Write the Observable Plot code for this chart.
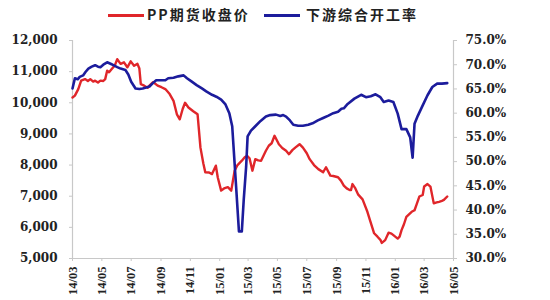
<!DOCTYPE html>
<html><head><meta charset="utf-8">
<script src="https://cdn.jsdelivr.net/npm/d3@7"></script>
<script src="https://cdn.jsdelivr.net/npm/@observablehq/plot@0.6"></script>
<style>
html,body{margin:0;padding:0;background:#fff;}
body{width:550px;height:300px;overflow:hidden;}
#legend{position:relative;height:28px;width:550px;font-family:"Noto Sans CJK SC","Liberation Serif",serif;font-weight:bold;font-size:14px;color:#222;}
#legend .sw{position:absolute;top:14px;height:3px;width:36px;}
#legend .tx{position:absolute;top:5px;letter-spacing:2px;white-space:nowrap;line-height:18px;}
</style></head><body>
<div id="legend"></div>
<div id="chart"></div>
<script>
const seriesNames = ["PP期货收盘价", "下游综合开工率"];
const seriesColors = ["#e0262a", "#1c1c9c"];

const priceDates = ["2014-03-01","2014-03-06","2014-03-13","2014-03-19","2014-03-27","2014-04-02","2014-04-07","2014-04-13","2014-04-17","2014-04-23","2014-04-28","2014-05-04","2014-05-08","2014-05-12","2014-05-16","2014-05-22","2014-05-28","2014-06-02","2014-06-09","2014-06-16","2014-06-23","2014-06-30","2014-07-07","2014-07-14","2014-07-18","2014-07-21","2014-07-28","2014-08-04","2014-08-08","2014-08-15","2014-08-21","2014-08-25","2014-09-02","2014-09-10","2014-09-19","2014-09-27","2014-10-04","2014-10-10","2014-10-16","2014-10-21","2014-10-28","2014-11-07","2014-11-16","2014-11-22","2014-11-28","2014-12-02","2014-12-10","2014-12-16","2014-12-24","2014-12-28","2015-01-04","2015-01-10","2015-01-18","2015-01-25","2015-02-01","2015-02-07","2015-02-16","2015-02-22","2015-02-27","2015-03-04","2015-03-10","2015-03-16","2015-03-22","2015-03-28","2015-04-07","2015-04-13","2015-04-19","2015-04-25","2015-05-04","2015-05-11","2015-05-19","2015-05-25","2015-06-01","2015-06-07","2015-06-16","2015-06-23","2015-07-01","2015-07-07","2015-07-16","2015-07-25","2015-08-04","2015-08-10","2015-08-19","2015-08-25","2015-09-04","2015-09-10","2015-09-16","2015-09-22","2015-09-28","2015-10-01","2015-10-04","2015-10-10","2015-10-16","2015-10-25","2015-11-04","2015-11-10","2015-11-18","2015-11-25","2015-12-01","2015-12-04","2015-12-11","2015-12-18","2015-12-24","2015-12-28","2016-01-06","2016-01-10","2016-01-14","2016-01-19","2016-01-24","2016-02-04","2016-02-10","2016-02-14","2016-02-20","2016-02-27","2016-03-01","2016-03-08","2016-03-14","2016-03-21","2016-03-27","2016-04-01","2016-04-07","2016-04-11","2016-04-18"];
const priceValues = [10170,10230,10440,10710,10760,10700,10760,10680,10710,10650,10710,10700,10760,11030,10980,11090,11200,11400,11250,11300,11140,11330,11190,11250,11100,10600,10550,10480,10550,10660,10600,10550,10500,10440,10280,10060,9630,9470,9800,10000,9850,9730,9630,8560,8050,7770,7760,7710,7980,7600,7180,7250,7290,7180,7820,8000,8140,8250,8300,8220,7820,8190,8150,8140,8460,8620,8700,8940,8670,8550,8460,8350,8480,8560,8670,8560,8380,8190,8000,7870,7770,7930,7660,7650,7610,7500,7340,7250,7200,7200,7390,7250,7050,6900,6500,6200,5810,5700,5600,5500,5590,5830,5800,5750,5640,5700,5910,6100,6340,6500,6550,6720,6990,7040,7310,7390,7310,6770,6800,6820,6850,6880,6990];

const rateDates = ["2014-03-01","2014-03-06","2014-03-12","2014-03-16","2014-03-23","2014-03-28","2014-04-03","2014-04-10","2014-04-17","2014-04-23","2014-04-28","2014-05-04","2014-05-12","2014-05-19","2014-05-25","2014-06-02","2014-06-09","2014-06-19","2014-06-25","2014-07-01","2014-07-10","2014-07-18","2014-07-25","2014-08-01","2014-08-08","2014-08-15","2014-08-22","2014-09-02","2014-09-10","2014-09-16","2014-09-27","2014-10-07","2014-10-18","2014-10-25","2014-11-04","2014-11-14","2014-11-25","2014-12-04","2014-12-16","2014-12-25","2015-01-04","2015-01-13","2015-01-21","2015-01-27","2015-02-04","2015-02-10","2015-02-16","2015-02-20","2015-02-25","2015-02-28","2015-03-07","2015-03-16","2015-03-27","2015-04-07","2015-04-16","2015-04-28","2015-05-07","2015-05-13","2015-05-19","2015-05-27","2015-06-03","2015-06-13","2015-06-23","2015-07-04","2015-07-13","2015-07-24","2015-08-04","2015-08-15","2015-08-25","2015-09-04","2015-09-11","2015-09-16","2015-09-24","2015-10-08","2015-10-22","2015-11-01","2015-11-11","2015-11-21","2015-12-01","2015-12-08","2015-12-18","2015-12-28","2016-01-06","2016-01-14","2016-01-24","2016-02-01","2016-02-06","2016-02-10","2016-02-17","2016-02-27","2016-03-08","2016-03-18","2016-03-28","2016-04-07","2016-04-18"];
const rateValues = [65.1,67.2,67.0,67.5,67.8,68.5,69.2,69.6,69.9,69.6,69.5,70.0,70.5,70.2,69.9,69.5,69.2,68.9,68.0,66.5,65.1,65.0,65.1,65.3,65.5,66.2,66.8,66.8,66.8,67.2,67.3,67.6,67.8,67.2,66.5,65.8,65.1,64.5,63.8,63.4,62.8,61.8,60.0,57.3,45.0,35.6,35.6,42.2,49.0,55.2,56.4,57.3,58.4,59.3,59.6,59.7,59.4,59.6,59.3,58.5,57.6,57.4,57.4,57.6,57.9,58.5,59.0,59.5,60.0,60.3,60.9,61.0,61.9,63.0,63.8,63.3,63.5,63.9,63.3,62.3,62.6,62.3,59.9,56.7,56.7,55.0,50.8,57.8,59.5,61.6,63.7,65.4,66.1,66.1,66.2];

const leftTicks = [5000,6000,7000,8000,9000,10000,11000,12000];
const rightTicks = [30,35,40,45,50,55,60,65,70,75];
const xTickLabels = ["2014-03-01","2014-05-01","2014-07-01","2014-09-01","2014-11-01","2015-01-01","2015-03-01","2015-05-01","2015-07-01","2015-09-01","2015-11-01","2016-01-01","2016-03-01","2016-05-01"];

// right-axis percent mapped onto the left-axis scale domain
const toLeft = p => leftTicks[0] + (p - rightTicks[0]) / (rightTicks[rightTicks.length-1] - rightTicks[0]) * (leftTicks[leftTicks.length-1] - leftTicks[0]);

const price = priceDates.map((d, i) => ({date: new Date(d), value: priceValues[i]}));
const rate = rateDates.map((d, i) => ({date: new Date(d), value: rateValues[i]}));
const xDomain = [new Date(xTickLabels[0]), new Date(xTickLabels[xTickLabels.length-1])];

// legend
const lg = document.getElementById("legend");
const lgPos = [[108, 147], [264, 306]];
seriesNames.forEach((n, i) => {
  const sw = document.createElement("div"); sw.className = "sw";
  sw.style.left = lgPos[i][0] + "px"; sw.style.background = seriesColors[i];
  const tx = document.createElement("div"); tx.className = "tx";
  tx.style.left = lgPos[i][1] + "px"; tx.textContent = n;
  lg.appendChild(sw); lg.appendChild(tx);
});

const chart = Plot.plot({
  width: 550, height: 272,
  marginLeft: 72, marginRight: 97, marginTop: 12, marginBottom: 42,
  style: {background: "#fff", color: "#222", fontFamily: "'DejaVu Serif', serif", fontSize: "12px", fontWeight: "bold"},
  x: {type: "utc", domain: xDomain, label: null},
  y: {domain: [leftTicks[0], leftTicks[leftTicks.length-1]], label: null},
  marks: [
    Plot.ruleX(xDomain, {stroke: "#c8c8c8", strokeWidth: 1.2}),
    Plot.ruleY([leftTicks[0]], {stroke: "#c8c8c8", strokeWidth: 1.2}),
    Plot.axisY({anchor: "left", ticks: leftTicks, tickFormat: d3.format(","), tickSize: 3, tickPadding: 12, stroke: "#c8c8c8", fill: "#222", fontFamily: "'DejaVu Serif', serif", fontSize: 12, fontWeight: "bold"}),
    Plot.axisY({anchor: "right", ticks: rightTicks.map(toLeft), tickFormat: (d, i) => rightTicks[i].toFixed(1) + "%", tickSize: 3, tickPadding: 9, stroke: "#c8c8c8", fill: "#222", fontFamily: "'DejaVu Serif', serif", fontSize: 12, fontWeight: "bold"}),
    Plot.axisX({ticks: xTickLabels.map(d => new Date(d)), tickFormat: d3.utcFormat("%y/%m"), tickRotate: -90, tickSize: 3, tickPadding: 5, stroke: "#c8c8c8", fill: "#222", fontFamily: "'Liberation Serif', serif", fontSize: 12.5, fontWeight: "bold"}),
    Plot.lineY(price, {x: "date", y: "value", stroke: seriesColors[0], strokeWidth: 2.4}),
    Plot.lineY(rate, {x: "date", y: d => toLeft(d.value), stroke: seriesColors[1], strokeWidth: 2.6})
  ]
});
chart.querySelectorAll("text").forEach(t => {
  const isX = t.textContent.includes("/");
  t.setAttribute("font-family", isX ? "Liberation Serif" : "DejaVu Serif");
  t.setAttribute("font-size", isX ? "12.5" : "12");
  t.setAttribute("font-weight", "bold");
  t.style.fontFamily = isX ? "'Liberation Serif', serif" : "'DejaVu Serif', serif";
  t.style.fontSize = isX ? "12.5px" : "12px";
  t.style.fontWeight = "bold";
});
document.getElementById("chart").appendChild(chart);
</script>
</body></html>
